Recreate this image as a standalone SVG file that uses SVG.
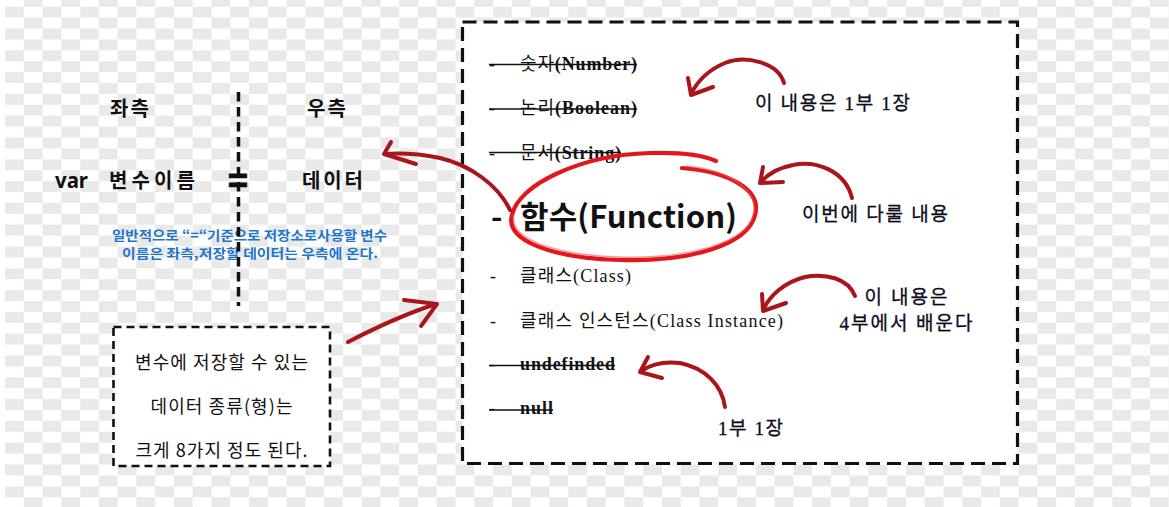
<svg xmlns="http://www.w3.org/2000/svg" width="1169" height="507" viewBox="0 0 1169 507">
<defs>
<pattern id="checker" patternUnits="userSpaceOnUse" x="5" y="6.7" width="37.54" height="21.8">
<rect x="0" y="0" width="37.54" height="21.8" fill="#ffffff"/>
<rect x="0" y="0" width="18.77" height="10.9" fill="#e9e9e9"/>
<rect x="18.77" y="10.9" width="18.77" height="10.9" fill="#e9e9e9"/>
</pattern>
</defs>
<style>
.ko{font-family:"Noto Sans CJK KR","Noto Sans",sans-serif;}
.kb{font-family:"Noto Sans CJK KR","Noto Sans",sans-serif;font-weight:bold;font-size:20px;fill:#111;}
.item{font-family:"Liberation Serif","Noto Sans CJK KR",serif;font-size:18px;fill:#111;}
.strike{stroke:#111;stroke-width:1.6;}
.note{font-family:"Liberation Serif","Noto Sans CJK KR",serif;font-size:19px;fill:#0b0b1c;stroke:#0b0b1c;stroke-width:0.3;}
.arrow{fill:none;stroke:#a9151a;stroke-width:4;stroke-linecap:round;stroke-linejoin:round;}
.blue{font-family:"Noto Sans CJK KR",sans-serif;font-weight:bold;font-size:13px;fill:#1f74cc;}
</style>
<rect x="0" y="0" width="1169" height="507" fill="url(#checker)"/>
<rect x="0" y="0" width="5" height="507" fill="#ffffff"/>

<g id="left-title">
<text class="kb" x="110" y="116" letter-spacing="2">좌측</text>
</g>
<g id="right-title">
<text class="kb" x="307" y="116" letter-spacing="2">우측</text>
</g>
<g id="var-label">
<text x="55" y="188" font-family="Noto Sans,Liberation Sans,sans-serif" font-weight="bold" font-size="21" fill="#111" textLength="33" lengthAdjust="spacingAndGlyphs">var</text>
</g>
<g id="var-name">
<text class="kb" x="109" y="188" textLength="86">변수이름</text>
</g>
<g id="equals">
<text x="238" y="191.5" text-anchor="middle" font-family="Liberation Sans,sans-serif" font-weight="bold" font-size="34" fill="#111" stroke="#111" stroke-width="1.2">=</text>
</g>
<g id="data">
<text class="kb" x="302" y="188" textLength="61">데이터</text>
</g>
<g id="explain">
<text class="blue" x="112" y="240" textLength="275" lengthAdjust="spacingAndGlyphs">일반적으로 “=“기준으로 저장소로사용할 변수</text>
<text class="blue" x="122" y="258" textLength="256" lengthAdjust="spacingAndGlyphs">이름은 좌측,저장할 데이터는 우측에 온다.</text>
</g>
<line x1="238.5" y1="92" x2="238.5" y2="306" stroke="#111" stroke-width="3.5" stroke-dasharray="9.5 5.5"/>

<g id="types-note">
<rect x="113.5" y="327" width="216.5" height="139" fill="#ffffff" stroke="#111" stroke-width="2.6" stroke-dasharray="8 5"/>
<text class="ko" x="221.5" y="368.5" text-anchor="middle" font-size="18" fill="#111" textLength="173">변수에 저장할 수 있는</text>
<text class="ko" x="221.5" y="413" text-anchor="middle" font-size="18" fill="#111" textLength="142">데이터 종류(형)는</text>
<text class="ko" x="221.5" y="457" text-anchor="middle" font-size="18" fill="#111" textLength="172">크게 8가지 정도 된다.</text>
</g>

<g id="type-list">
<rect x="462.5" y="22" width="555" height="441.5" fill="#ffffff" stroke="#111" stroke-width="3.2" stroke-dasharray="14 7"/>
</g>

<g id="item-number">
<text class="item" x="489" y="70">-</text>
<text class="item" x="520" y="70" textLength="117">숫자<tspan font-weight="bold">(Number)</tspan></text>
<line class="strike" x1="489" y1="64.5" x2="637" y2="64.5"/>
</g>
<g id="item-boolean">
<text class="item" x="489" y="114">-</text>
<text class="item" x="520" y="114" textLength="117">논리<tspan font-weight="bold">(Boolean)</tspan></text>
<line class="strike" x1="489" y1="109" x2="637" y2="109"/>
</g>
<g id="item-string">
<text class="item" x="489" y="159">-</text>
<text class="item" x="520" y="159" textLength="101">문서<tspan font-weight="bold">(String)</tspan></text>
<line class="strike" x1="489" y1="152.5" x2="621" y2="152.5"/>
</g>
<g id="item-function">
<text x="491" y="228" font-family="Noto Sans CJK KR,sans-serif" font-weight="bold" font-size="31" fill="#111">-</text>
<text x="520" y="228" font-family="Noto Sans CJK KR,sans-serif" font-weight="bold" font-size="31" fill="#111" textLength="217">함수(Function)</text>
</g>
<g id="item-class">
<text class="item" x="490" y="282" font-size="16">-</text>
<text class="item" x="520" y="282" font-size="17" textLength="111">클래스(Class)</text>
</g>
<g id="item-instance">
<text class="item" x="490" y="327" font-size="16">-</text>
<text class="item" x="520" y="327" font-size="17" textLength="263">클래스 인스턴스(Class Instance)</text>
</g>
<g id="item-undefined">
<text class="item" x="489" y="370">-</text>
<text class="item" x="520" y="370" font-weight="bold" textLength="95">undefinded</text>
<line class="strike" x1="489" y1="365.5" x2="615" y2="365.5"/>
</g>
<g id="item-null">
<text class="item" x="489" y="414">-</text>
<text class="item" x="520" y="414" font-weight="bold" textLength="33">null</text>
<line class="strike" x1="489" y1="410" x2="553" y2="410"/>
</g>

<g id="highlight-circle">
<path d="M 682 168 C 730 172, 762 190, 755 215 C 748 245, 690 262, 620 260 C 550 258, 505 240, 512 215 C 518 185, 580 155, 650 153 C 685 152, 705 156, 716 161" fill="none" stroke="#e3161b" stroke-width="4.2" stroke-linecap="round"/>
<path d="M 686 166 C 732 170, 760 192, 753 216 C 745 243, 688 259, 620 257 C 552 255, 508 238, 514 214" fill="none" stroke="#f0585c" stroke-width="1.5" opacity="0.6"/>
</g>

<g id="note-part1">
<text class="note" x="755" y="110" textLength="155">이 내용은 1부 1장</text>
</g>
<g id="note-this-time">
<text class="note" x="802" y="221" textLength="146">이번에 다룰 내용</text>
</g>
<g id="note-part4">
<text class="note" x="906" y="304" text-anchor="middle" textLength="83">이 내용은</text>
<text class="note" x="906" y="330" text-anchor="middle" textLength="133">4부에서 배운다</text>
</g>
<g id="note-part1b">
<text class="note" x="718" y="435" textLength="65">1부 1장</text>
</g>

<g id="connectors">
<path class="arrow" d="M 510 210 C 498 185, 470 165, 440 158 C 420 154, 400 153, 385 154"/>
<path class="arrow" d="M 391 142 L 384 154 L 416 164"/>
<path class="arrow" d="M 348 342 C 375 328, 405 314, 436 304"/>
<path class="arrow" d="M 404 300 L 437 304 L 421 326"/>
<path class="arrow" d="M 784 83 C 778 62, 745 55, 725 63 C 708 70, 697 82, 691 94"/>
<path class="arrow" d="M 688 78 L 691 95 L 713 87"/>
<path class="arrow" d="M 852 198 C 845 170, 815 160, 793 165 C 778 168, 767 175, 761 182"/>
<path class="arrow" d="M 763 167 L 760 183 L 783 182"/>
<path class="arrow" d="M 855 296 C 848 278, 825 273, 805 277 C 785 282, 770 295, 763 310"/>
<path class="arrow" d="M 762 294 L 763 311 L 786 303"/>
<path class="arrow" d="M 725 407 C 722 385, 705 368, 680 363 C 663 361, 650 365, 641 371"/>
<path class="arrow" d="M 648 357 L 640 372 L 662 378"/>
</g>
</svg>
